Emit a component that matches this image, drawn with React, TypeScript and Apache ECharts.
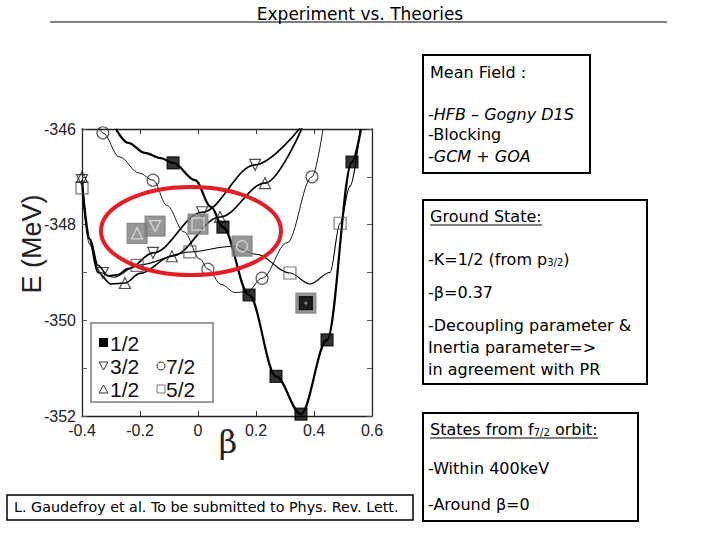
import React, { useEffect, useRef } from "react";
import * as echarts from "echarts";

// axis ranges / ticks
const X_MIN = -0.4;
const X_MAX = 0.6;
const X_STEP = 0.2;
const Y_MIN = -352;
const Y_MAX = -346;
const Y_STEP = 1;

// K=1/2 (filled squares) : [beta, E]
const k12aCurve = [
  [-0.283, -346.0], [-0.241, -346.29], [-0.183, -346.5], [-0.128, -346.61],
  [-0.086, -346.71], [-0.01, -347.07], [0.045, -347.63], [0.086, -348.05],
  [0.176, -349.47], [0.269, -351.17], [0.355, -351.96], [0.445, -350.41],
  [0.531, -346.69], [0.562, -346.0],
];
const k12aMarks = [
  [-0.086, -346.71], [0.086, -348.05], [0.176, -349.47], [0.269, -351.17],
  [0.355, -351.96], [0.445, -350.41], [0.531, -346.69],
];

// K=3/2 (down triangles)
const k32Curve = [
  [-0.4, -347.07], [-0.372, -348.3], [-0.345, -348.85], [-0.31, -349.07],
  [-0.28, -349.05], [-0.24, -348.92], [-0.155, -348.59], [0.014, -347.74],
  [0.197, -346.75], [0.352, -345.98],
];
const k32Marks = [
  [-0.4, -347.07], [-0.328, -349.01], [-0.155, -348.59], [0.014, -347.74], [0.197, -346.75],
];

// K=1/2 (up triangles)
const k12bCurve = [
  [-0.4, -347.07], [-0.376, -348.3], [-0.345, -349.0], [-0.3, -349.24],
  [-0.252, -349.22], [-0.2, -349.02], [-0.09, -348.66], [0.076, -347.84],
  [0.231, -347.13], [0.359, -345.98],
];
const k12bMarks = [
  [-0.4, -347.0], [-0.252, -349.22], [-0.09, -348.66], [0.076, -347.84], [0.231, -347.13],
];

// K=7/2 (circles)
const k72Curve = [
  [-0.345, -345.95], [-0.328, -346.08], [-0.272, -346.58], [-0.203, -346.92],
  [-0.155, -347.07], [-0.107, -347.6], [-0.048, -348.15], [0.007, -348.72],
  [0.034, -348.93], [0.08, -349.25], [0.128, -349.42], [0.17, -349.4],
  [0.221, -349.12], [0.307, -348.38], [0.393, -347.0], [0.431, -346.0],
];
const k72Marks = [
  [-0.328, -346.08], [-0.155, -347.07], [0.034, -348.93], [0.221, -349.12], [0.393, -347.0],
];

// K=5/2 (squares)
const k52Curve = [
  [-0.4, -347.23], [-0.374, -348.4], [-0.34, -349.0], [-0.29, -349.1],
  [-0.21, -348.85], [-0.028, -348.57], [0.12, -348.45], [0.2, -348.62],
  [0.317, -349.01], [0.386, -349.24], [0.455, -349.0], [0.49, -347.97],
  [0.524, -347.2], [0.559, -346.02],
];
const k52Marks = [
  [-0.4, -347.23], [-0.21, -348.85], [-0.028, -348.57], [0.317, -349.01], [0.49, -347.97],
];

// experimental states (gray boxes)
const expTriUp = [[-0.21, -348.18]];
const expTriDown = [[-0.148, -348.03]];
const expSquare = [[0.0, -347.99]];
const expCircle = [[0.152, -348.45]];
const expGround = [[0.372, -349.64]];

const SLIDE_FONT = "DejaVu Sans";
const AXIS_FONT = "Liberation Sans";

function lineSeries(data: number[][], width: number, color = "#000") {
  return {
    type: "line",
    data,
    smooth: 0.35,
    smoothMonotone: "x",
    showSymbol: false,
    symbol: "none",
    lineStyle: { color, width },
    z: 2,
    silent: true,
  };
}

function markSeries(
  data: number[][],
  symbol: string,
  size: number,
  fill: string,
  border: string,
  rotate = 0,
  z = 3
) {
  return {
    type: "scatter",
    data,
    symbol,
    symbolSize: size,
    symbolRotate: rotate,
    itemStyle: { color: fill, borderColor: border, borderWidth: 1.2 },
    z,
    silent: true,
  };
}

function txt(x: number, y: number, text: string, size = 16, extra: any = {}) {
  return {
    type: "text",
    x,
    y,
    style: {
      text,
      fontSize: size,
      fontFamily: SLIDE_FONT,
      fill: "#000",
      textAlign: "left",
      textVerticalAlign: "middle",
      ...extra,
    },
    z: 10,
  };
}

function box(x: number, y: number, w: number, h: number, stroke = "#000", lw = 2) {
  return {
    type: "rect",
    shape: { x, y, width: w, height: h },
    style: { fill: "#fff", stroke, lineWidth: lw },
    z: 5,
  };
}

function hline(x1: number, x2: number, y: number, lw = 1.2) {
  return {
    type: "line",
    shape: { x1, y1: y, x2, y2: y },
    style: { stroke: "#000", lineWidth: lw },
    z: 10,
  };
}

export default function App() {
  const ref = useRef<HTMLDivElement>(null);

  useEffect(() => {
    if (!ref.current) return;
    const chart = echarts.init(ref.current, null, { renderer: "svg" });
    const sub = { sub: { fontSize: 10, verticalAlign: "bottom", fontFamily: SLIDE_FONT } };

    const option: any = {
      animation: false,
      backgroundColor: "#fff",
      grid: { left: 82, right: 348, top: 129, bottom: 124, containLabel: false },
      xAxis: [
        {
          type: "value",
          min: X_MIN,
          max: X_MAX,
          interval: X_STEP,
          position: "bottom",
          axisLine: { onZero: false, lineStyle: { color: "#222", width: 1.3 } },
          axisTick: { inside: true, length: 5, lineStyle: { color: "#333" } },
          axisLabel: {
            fontSize: 16,
            lineHeight: 16,
            fontFamily: AXIS_FONT,
            color: "#222",
            margin: 6,
            formatter: (v: number) => String(Math.round(v * 10) / 10),
          },
          splitLine: { show: false },
        },
        {
          type: "value",
          min: X_MIN,
          max: X_MAX,
          interval: X_STEP,
          position: "top",
          axisLine: { onZero: false, lineStyle: { color: "#222", width: 1.3 } },
          axisTick: { inside: true, length: 5, lineStyle: { color: "#333" } },
          axisLabel: { show: false },
          splitLine: { show: false },
        },
      ],
      yAxis: [
        {
          type: "value",
          min: Y_MIN,
          max: Y_MAX,
          interval: Y_STEP,
          position: "left",
          axisLine: { onZero: false, lineStyle: { color: "#222", width: 1.3 } },
          axisTick: { inside: true, length: 5, lineStyle: { color: "#555" } },
          axisLabel: {
            fontSize: 16,
            lineHeight: 14,
            fontFamily: AXIS_FONT,
            color: "#222",
            margin: 6,
            formatter: (v: number) => (Math.round(v) % 2 === 0 ? String(Math.round(v)) : ""),
          },
          splitLine: { show: false },
        },
        {
          type: "value",
          min: Y_MIN,
          max: Y_MAX,
          interval: Y_STEP,
          position: "right",
          axisLine: { onZero: false, lineStyle: { color: "#222", width: 1.3 } },
          axisTick: { inside: true, length: 5, lineStyle: { color: "#555" } },
          axisLabel: { show: false },
          splitLine: { show: false },
        },
      ],
      series: [
        lineSeries(k72Curve, 0.9),
        lineSeries(k52Curve, 1.1),
        lineSeries(k32Curve, 1.7),
        lineSeries(k12bCurve, 1.7),
        lineSeries(k12aCurve, 2.2),
        markSeries(k72Marks, "circle", 12, "rgba(255,255,255,0)", "#333"),
        markSeries(k52Marks, "rect", 12, "rgba(255,255,255,0)", "#555"),
        markSeries(k32Marks, "triangle", 11, "rgba(255,255,255,0)", "#222", 180),
        markSeries(k12bMarks, "triangle", 11, "rgba(255,255,255,0)", "#222"),
        markSeries(k12aMarks, "rect", 12, "#000", "#000"),
        // experimental: gray boxes
        markSeries([...expTriUp, ...expTriDown, ...expSquare, ...expCircle, ...expGround], "rect", 20, "#7d7d7d", "#7d7d7d", 0, 6),
        markSeries(expTriUp, "triangle", 11, "rgba(0,0,0,0)", "#e8e8e8", 0, 7),
        markSeries(expTriDown, "triangle", 11, "rgba(0,0,0,0)", "#e8e8e8", 180, 7),
        markSeries(expSquare, "rect", 12, "rgba(0,0,0,0)", "#e8e8e8", 0, 7),
        markSeries(expCircle, "circle", 11, "rgba(0,0,0,0)", "#e8e8e8", 0, 7),
        markSeries(expGround, "rect", 13, "#000", "#000", 0, 7),
        markSeries(expGround, "circle", 2, "#888", "#888", 0, 8),
      ],
      graphic: [
        // title
        txt(360, 14, "Experiment vs. Theories", 17, { textAlign: "center" }),
        hline(50, 667, 22, 1),
        // axis titles
        {
          type: "text",
          x: 32,
          y: 244,
          rotation: Math.PI / 2,
          style: {
            text: "E (MeV)",
            fontSize: 27,
            fontFamily: AXIS_FONT,
            fill: "#222",
            textAlign: "center",
            textVerticalAlign: "middle",
          },
          z: 10,
        },
        {
          type: "text",
          x: 228,
          y: 442,
          style: {
            text: "β",
            fontSize: 32,
            fontFamily: "DejaVu Serif",
            fill: "#222",
            textAlign: "center",
            textVerticalAlign: "middle",
          },
          z: 10,
        },
        // red ellipse
        {
          type: "ellipse",
          shape: { cx: 191, cy: 231, rx: 90, ry: 44 },
          style: { fill: "none", stroke: "#e31e24", lineWidth: 4 },
          z: 9,
        },
        // legend
        box(91, 323, 122, 79, "#9a9a9a", 2),
        { type: "rect", shape: { x: 99, y: 338, width: 9, height: 9 }, style: { fill: "#000" }, z: 10 },
        txt(110, 343, "1/2", 21, { fontFamily: AXIS_FONT, fill: "#111" }),
        { type: "polygon", shape: { points: [[99, 362], [108, 362], [103.5, 370]] }, style: { fill: "none", stroke: "#333", lineWidth: 1 }, z: 10 },
        txt(110, 366, "3/2", 21, { fontFamily: AXIS_FONT, fill: "#111" }),
        { type: "circle", shape: { cx: 161, cy: 366, r: 4 }, style: { fill: "none", stroke: "#333", lineWidth: 1 }, z: 10 },
        txt(166, 366, "7/2", 21, { fontFamily: AXIS_FONT, fill: "#111" }),
        { type: "polygon", shape: { points: [[99, 393], [108, 393], [103.5, 385]] }, style: { fill: "none", stroke: "#333", lineWidth: 1 }, z: 10 },
        txt(110, 389, "1/2", 21, { fontFamily: AXIS_FONT, fill: "#111" }),
        { type: "rect", shape: { x: 157, y: 385, width: 8, height: 8 }, style: { fill: "none", stroke: "#777", lineWidth: 1 }, z: 10 },
        txt(166, 389, "5/2", 21, { fontFamily: AXIS_FONT, fill: "#111" }),
        // box 1
        box(423, 55, 167, 118),
        txt(430, 72, "Mean Field :"),
        txt(428, 114, "-HFB – Gogny D1S", 16, { fontStyle: "italic" }),
        txt(428, 134, "-Blocking"),
        txt(428, 156, "-GCM + GOA", 16, { fontStyle: "italic" }),
        // box 2
        box(423, 200, 224, 184),
        txt(430, 216, "Ground State:"),
        hline(430, 542, 225),
        txt(428, 259, "-K=1/2 (from p{sub|3/2})", 16, { rich: sub }),
        txt(428, 292, "-β=0.37"),
        txt(428, 325, "-Decoupling parameter &"),
        txt(428, 347, "Inertia parameter=>"),
        txt(428, 369, "in agreement with PR"),
        // box 3
        box(423, 413, 215, 108),
        txt(430, 429, "States from f{sub|7/2} orbit:", 16, { rich: sub }),
        hline(430, 598, 438),
        txt(428, 468, "-Within 400keV"),
        txt(428, 504, "-Around β=0"),
        // reference box
        box(7, 495, 406, 25, "#000", 1.5),
        txt(14, 507, "L. Gaudefroy et al. To be submitted to Phys. Rev. Lett.", 14.3),
      ],
    };
    chart.setOption(option);
    return () => chart.dispose();
  }, []);

  return (
    <div
      ref={ref}
      style={{ position: "absolute", left: 0, top: 0, width: 720, height: 540, background: "#fff" }}
    />
  );
}
